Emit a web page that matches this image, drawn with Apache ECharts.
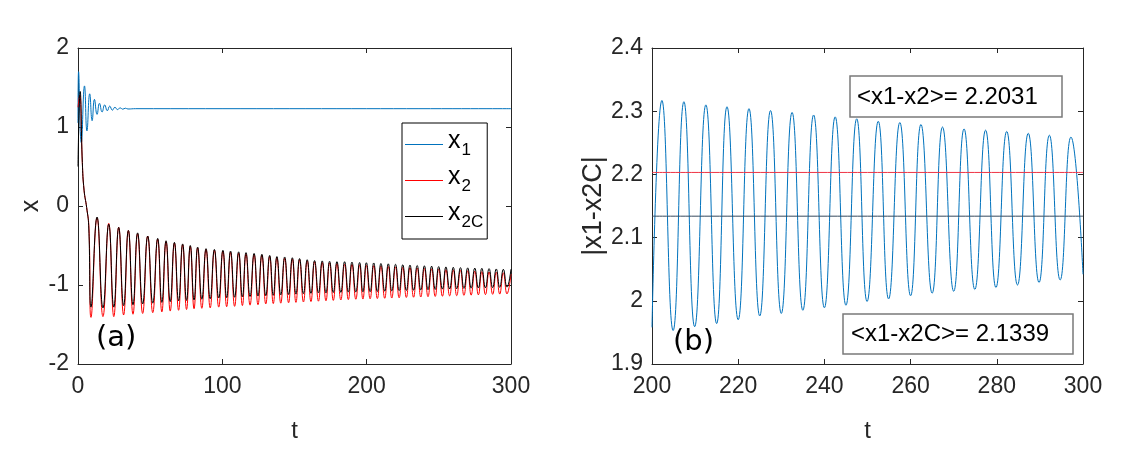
<!DOCTYPE html>
<html lang="en">
<head>
<meta charset="UTF-8">
<title>x1, x2, x2C</title>
<script src="https://cdn.jsdelivr.net/npm/echarts@6/dist/echarts.min.js"></script>
<style>
  html, body { margin: 0; padding: 0; background: #fff; }
  #main { width: 1134px; height: 454px; }
</style>
</head>
<body>
<div id="main"></div>
<script>
// ---- panel (a): x against t ----
const tRangeA = [0, 300, 100];
const xRangeA = [-2, 2, 1];

// x1: quick damped ringing, then flat
const x1T = [0, 0.4, 2.3, 4.5, 6.2, 8.1, 9.8, 11.4, 13.2, 14.9, 16.7, 18.5, 20.3, 22.0, 23.8, 25.6, 27.4, 29.2, 31.0, 32.8, 34.6, 40, 300];
const x1V = [1.05, 1.70, 0.80, 1.52, 0.95, 1.42, 1.08, 1.35, 1.16, 1.30, 1.19, 1.28, 1.205, 1.265, 1.213, 1.250, 1.220, 1.243, 1.225, 1.238, 1.228, 1.232, 1.232];

// start of x2 / x2C before the oscillation settles in
const x2cHead = [[0, 0.50], [1.5, 1.45], [3.0, 0.55], [4.2, 0.20], [6.0, -0.02], [7.4, -0.25]];
const x2Head = [[0, 1.25], [1.2, 1.40], [3.0, 0.55], [4.2, 0.20], [6.0, -0.02], [7.6, -0.28]];
const x2cTail = [[300, -0.80]];
const x2Tail = [[300, -0.86]];

// times of the maxima and minima of the oscillation
const peakT = [13.2, 21.3, 28.2, 34.9, 41.3, 48.3, 55.2, 61.0, 66.8, 72.5, 77.8, 82.9, 88.7, 94.5, 100.4, 105.7, 111.3, 116.4, 122.0, 127.4,
  132.8, 137.8, 143.2, 148.5, 153.5, 158.8, 163.9, 169.2, 174.3, 179.4, 184.7, 189.8, 195.1, 199.8, 204.9, 209.9, 215.0, 220.0, 225.0, 230.0,
  235.0, 240.0, 245.0, 249.9, 254.9, 260.0, 265.0, 270.0, 274.9, 279.8, 284.8, 289.8, 294.7];
const troughT = [9.0, 17.3, 24.8, 31.6, 38.1, 44.8, 51.8, 58.1, 63.9, 69.7, 75.2, 80.4, 85.8, 91.6, 97.5, 103.0, 108.5, 113.9, 119.2, 124.7,
  130.1, 135.3, 140.5, 145.9, 151.0, 156.2, 161.4, 166.6, 171.8, 176.9, 182.1, 187.3, 192.5, 197.4, 202.4, 207.4, 212.5, 217.4, 222.5, 227.5,
  232.5, 237.5, 242.5, 247.5, 252.5, 257.5, 262.4, 267.4, 272.4, 277.4, 282.3, 287.3, 292.2, 297.2];

const x2cPeakV = [-0.14, -0.23, -0.27, -0.31, -0.34, -0.38, -0.41, -0.44, -0.46, -0.48, -0.50, -0.52, -0.54, -0.55, -0.56, -0.57, -0.58, -0.59, -0.60, -0.61,
  -0.625, -0.64, -0.645, -0.655, -0.665, -0.68, -0.69, -0.695, -0.70, -0.705, -0.705, -0.71, -0.715, -0.718, -0.721, -0.727, -0.732, -0.738, -0.744, -0.748,
  -0.753, -0.757, -0.761, -0.767, -0.771, -0.776, -0.780, -0.783, -0.786, -0.789, -0.793, -0.797, -0.801];
const x2cTroughV = [-1.28, -1.29, -1.28, -1.26, -1.25, -1.24, -1.23, -1.22, -1.21, -1.20, -1.195, -1.19, -1.18, -1.175, -1.165, -1.16, -1.155, -1.15, -1.145, -1.14,
  -1.135, -1.13, -1.125, -1.12, -1.115, -1.11, -1.105, -1.10, -1.10, -1.095, -1.093, -1.09, -1.088, -1.086, -1.085, -1.083, -1.078, -1.075, -1.072, -1.069,
  -1.066, -1.062, -1.059, -1.056, -1.052, -1.050, -1.047, -1.043, -1.040, -1.038, -1.036, -1.033, -1.030, -1.027];

const x2PeakV = [-0.15, -0.22, -0.27, -0.31, -0.35, -0.38, -0.42, -0.45, -0.47, -0.49, -0.51, -0.53, -0.55, -0.56, -0.57, -0.585, -0.595, -0.605, -0.615, -0.625,
  -0.64, -0.655, -0.66, -0.67, -0.68, -0.695, -0.705, -0.715, -0.72, -0.73, -0.735, -0.74, -0.745, -0.75, -0.755, -0.76, -0.765, -0.77, -0.775, -0.78,
  -0.785, -0.79, -0.795, -0.80, -0.805, -0.81, -0.815, -0.82, -0.825, -0.83, -0.835, -0.84, -0.845];
const x2TroughV = [-1.41, -1.40, -1.40, -1.38, -1.37, -1.36, -1.35, -1.34, -1.33, -1.32, -1.31, -1.30, -1.295, -1.29, -1.28, -1.275, -1.27, -1.26, -1.255, -1.25,
  -1.24, -1.235, -1.23, -1.225, -1.22, -1.215, -1.21, -1.205, -1.20, -1.195, -1.19, -1.185, -1.18, -1.178, -1.175, -1.172, -1.168, -1.165, -1.162, -1.158,
  -1.155, -1.152, -1.148, -1.145, -1.142, -1.138, -1.135, -1.132, -1.128, -1.125, -1.122, -1.118, -1.115, -1.112];

// ---- panel (b): |x1-x2C| for t in [200, 300] ----
const tRangeB = [200, 300, 20];
const dRangeB = [1.9, 2.4, 0.1];
const diffPeakT = [202.3, 207.4, 212.5, 217.4, 222.5, 227.5, 232.5, 237.5, 242.5, 247.5, 252.5, 257.5, 262.4, 267.4, 272.4, 277.4, 282.3, 287.3, 292.2, 297.2];
const diffPeakV = [2.317, 2.315, 2.310, 2.307, 2.304, 2.301, 2.298, 2.294, 2.291, 2.288, 2.284, 2.282, 2.279, 2.275, 2.272, 2.270, 2.268, 2.265, 2.262, 2.259];
const diffTroughT = [204.9, 209.9, 215.0, 220.0, 225.0, 230.0, 235.0, 240.0, 245.0, 249.9, 254.9, 260.0, 265.0, 270.0, 274.9, 279.8, 284.8, 289.8, 294.7];
const diffTroughV = [1.953, 1.959, 1.964, 1.970, 1.976, 1.980, 1.985, 1.989, 1.993, 1.999, 2.003, 2.008, 2.012, 2.015, 2.018, 2.021, 2.025, 2.029, 2.033];
const diffHead = [[200, 1.958]];
const diffTail = [[300, 2.042]];
const meanX2 = 2.2031;
const meanX2C = 2.1339;

// ---- helpers ----
function pairs(ts, vs) {
  return ts.map((t, i) => [t, vs[i]]);
}
function wave(head, pT, pV, tT, tV, tail) {
  return head.concat(pairs(pT, pV), pairs(tT, tV), tail).sort((a, b) => a[0] - b[0]);
}

const FONT = '"Liberation Sans", Arial, Helvetica, sans-serif';
const AX = '#262626';

function axis(range, grid, pos, labels, margin) {
  return {
    type: 'value', gridIndex: grid, position: pos,
    min: range[0], max: range[1], interval: range[2],
    axisLine: { show: true, onZero: false, lineStyle: { color: AX, width: 1 } },
    axisTick: { show: true, inside: true, length: 5, lineStyle: { color: AX, width: 1 } },
    axisLabel: { show: labels, color: AX, fontSize: 23, fontFamily: FONT, margin: margin },
    splitLine: { show: false }
  };
}

function named(ax, name, gap, size, rotate) {
  ax.name = name;
  ax.nameLocation = 'middle';
  ax.nameGap = gap;
  if (rotate) ax.nameRotate = 90;
  ax.nameTextStyle = { fontSize: size, color: AX, fontFamily: FONT };
  return ax;
}

const xA = named(axis(tRangeA, 0, 'bottom', true, 11), 't', 55, 24, false);
const yA = named(axis(xRangeA, 0, 'left', true, 9), 'x', 34, 25, true);
const xB = named(axis(tRangeB, 1, 'bottom', true, 11), 't', 55, 24, false);
const yB = named(axis(dRangeB, 1, 'left', true, 9), '|x1-x2C|', 45, 27, true);

function line(name, data, color, xi, yi) {
  return {
    name: name, type: 'line', data: data, xAxisIndex: xi, yAxisIndex: yi,
    smooth: true, symbol: 'none', clip: true, animation: false,
    lineStyle: { color: color, width: 1 }, itemStyle: { color: color },
    emphasis: { disabled: true }
  };
}

const chart = echarts.init(document.getElementById('main'));
chart.setOption({
  backgroundColor: '#fff',
  animation: false,
  grid: [
    { left: 78, top: 48, width: 433, height: 316 },
    { left: 652, top: 48, width: 431, height: 316 }
  ],
  xAxis: [xA, axis(tRangeA, 0, 'top', false, 0), xB, axis(tRangeB, 1, 'top', false, 0)],
  yAxis: [yA, axis(xRangeA, 0, 'right', false, 0), yB, axis(dRangeB, 1, 'right', false, 0)],
  legend: {
    data: ['x1', 'x2', 'x2C'],
    orient: 'vertical', left: 402, top: 123,
    icon: 'rect', itemWidth: 38, itemHeight: 1, itemGap: 6,
    padding: [6, 4, 8, 3],
    borderColor: '#000', borderWidth: 1, borderRadius: 0, backgroundColor: '#fff',
    selectedMode: false,
    formatter: name => '{x|x}{s|' + name.slice(1) + '}',
    textStyle: {
      color: '#000', fontFamily: FONT, fontSize: 24,
      rich: {
        x: { fontSize: 25, fontFamily: FONT, padding: [0, 0, 6, 0] },
        s: { fontSize: 17, fontFamily: FONT, padding: [12, 0, 0, 1] }
      }
    }
  },
  graphic: [
    { type: 'text', x: 96, y: 324, style: { text: '(a)', fontSize: 29, fontFamily: '"DejaVu Sans", sans-serif', fill: '#000' } },
    { type: 'text', x: 673, y: 328, style: { text: '(b)', fontSize: 29, fontFamily: '"DejaVu Sans", sans-serif', fill: '#000' } },
    { type: 'rect', shape: { x: 850, y: 76, width: 212, height: 41 }, style: { fill: '#fff', stroke: '#7a7a7a', lineWidth: 1.5 } },
    { type: 'text', x: 857, y: 97, style: { text: '<x1-x2>= ' + meanX2.toFixed(4), fontSize: 24, fontFamily: FONT, fill: '#000', verticalAlign: 'middle' } },
    { type: 'rect', shape: { x: 843, y: 314, width: 230, height: 40 }, style: { fill: '#fff', stroke: '#7a7a7a', lineWidth: 1.5 } },
    { type: 'text', x: 851, y: 334.5, style: { text: '<x1-x2C>= ' + meanX2C.toFixed(4), fontSize: 24, fontFamily: FONT, fill: '#000', verticalAlign: 'middle' } }
  ],
  series: [
    line('x1', pairs(x1T, x1V), '#0072BD', 0, 0),
    line('x2', wave(x2Head, peakT, x2PeakV, troughT, x2TroughV, x2Tail), '#FF0000', 0, 0),
    line('x2C', wave(x2cHead, peakT, x2cPeakV, troughT, x2cTroughV, x2cTail), '#000000', 0, 0),
    line('diff', wave(diffHead, diffPeakT, diffPeakV, diffTroughT, diffTroughV, diffTail), '#0072BD', 2, 2),
    line('meanX2', [[tRangeB[0], meanX2], [tRangeB[1], meanX2]], '#ee3344', 2, 2),
    line('meanX2C', [[tRangeB[0], meanX2C], [tRangeB[1], meanX2C]], '#34495e', 2, 2)
  ]
});
</script>
</body>
</html>
